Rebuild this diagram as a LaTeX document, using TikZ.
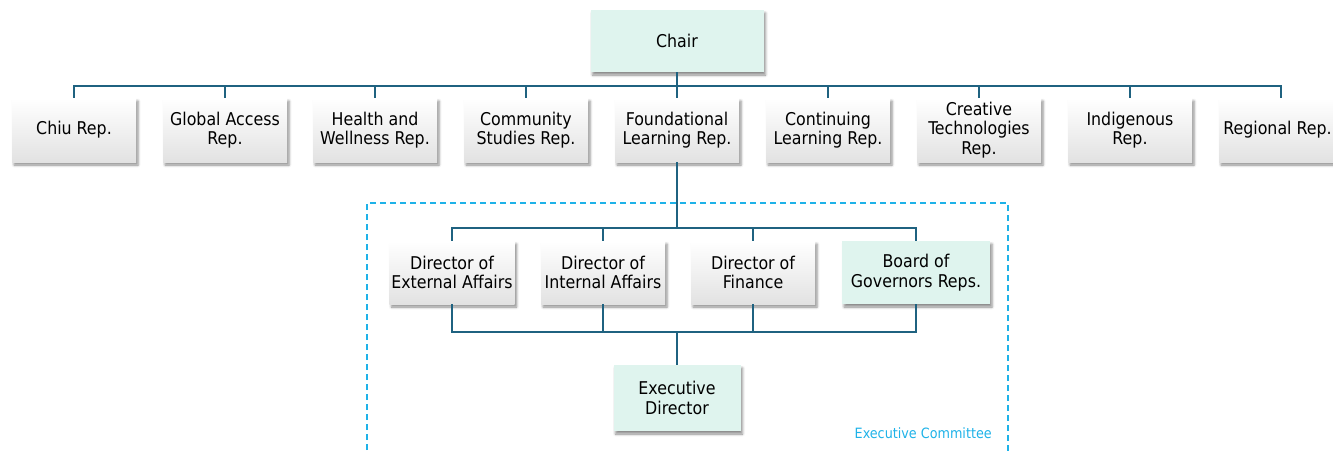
\documentclass[tikz,border=0pt]{standalone}
\usepackage{fontspec}
\setmainfont{DejaVu Sans Condensed}
\usetikzlibrary{shadows.blur}
\definecolor{linkblue}{RGB}{31,98,128}
\definecolor{mintfill}{RGB}{223,244,238}
\definecolor{cttblue}{RGB}{30,178,232}
\definecolor{boxgray}{RGB}{226,226,226}
\tikzset{
  unit/.style={minimum width=124pt, minimum height=64pt, inner sep=2pt,
    align=center, font=\fontsize{17.6}{19.4}\selectfont,
    blur shadow={shadow xshift=2pt, shadow yshift=-3pt,
      shadow blur radius=2.5pt, shadow opacity=45}},
  graybox/.style={unit, top color=white, bottom color=boxgray},
  mintbox/.style={unit, fill=mintfill},
  link/.style={draw=linkblue, line width=1.6pt},
}
\begin{document}
\begin{tikzpicture}[x=1pt, y=-1pt]
\useasboundingbox (0,0) rectangle (1333,452);

% executive committee frame
\draw[cttblue, line width=1.2pt, dash pattern=on 6pt off 4pt] (367,460) |- (1008,203) -- (1008,460);
\node[text=cttblue, font=\fontsize{14.2}{16}\selectfont, anchor=east, inner sep=0pt] (ectitle) at (992,433) {Executive Committee};

% top of the organisation
\node[mintbox, minimum width=173pt, minimum height=62pt] (chair) at (677,41) {Chair};

% representatives
\node[graybox] (chiu) at (74,130) {Chiu Rep.};
\node[graybox] (glob) at (225,130) {Global Access\\Rep.};
\node[graybox] (hw)   at (375,130) {Health and\\Wellness Rep.};
\node[graybox] (comm) at (526,130) {Community\\Studies Rep.};
\node[graybox] (foun) at (677,130) {Foundational\\Learning Rep.};
\node[graybox] (cont) at (828,130) {Continuing\\Learning Rep.};
\node[graybox] (crea) at (979,130) {Creative\\Technologies\\Rep.};
\node[graybox] (indi) at (1130,130) {Indigenous\\Rep.};
\node[graybox] (regi) at (1281,130) {Regional Rep.\hspace{7pt}};

% executive committee members
\node[graybox, minimum height=63pt] (ext) at (452,272.5) {Director of\\External Affairs};
\node[graybox, minimum height=63pt] (int) at (603,272.5) {Director of\\Internal Affairs};
\node[graybox, minimum height=63pt] (fin) at (753,272.5) {Director of\\Finance};
\node[mintbox, minimum width=148pt, minimum height=63pt] (bog) at (916,272.5) {Board of\\Governors Reps.};
\node[mintbox, minimum width=127pt, minimum height=66pt] (exd) at (677,398) {Executive\\Director};

% bus levels
\coordinate (bustop) at (677,86);
\coordinate (busmid) at (677,228);
\coordinate (buslow) at (677,332);

% chair to representatives
\draw[link] (chair.south) -- (foun.north);
\draw[link] (chiu.north) |- (bustop) -| (regi.north);
\foreach \n in {glob,hw,comm,cont,crea,indi}
  \draw[link] (\n.north) -- (\n.north |- bustop);

% foundational learning rep to the committee
\draw[link] (foun.south) -- (busmid);
\draw[link] (ext.north) |- (busmid) -| (bog.north);
\foreach \n in {int,fin}
  \draw[link] (\n.north) -- (\n.north |- busmid);

% committee members to executive director
\draw[link] (ext.south) |- (buslow) -| (bog.south);
\foreach \n in {int,fin}
  \draw[link] (\n.south) -- (\n.south |- buslow);
\draw[link] (buslow) -- (exd.north);
\end{tikzpicture}
\end{document}
